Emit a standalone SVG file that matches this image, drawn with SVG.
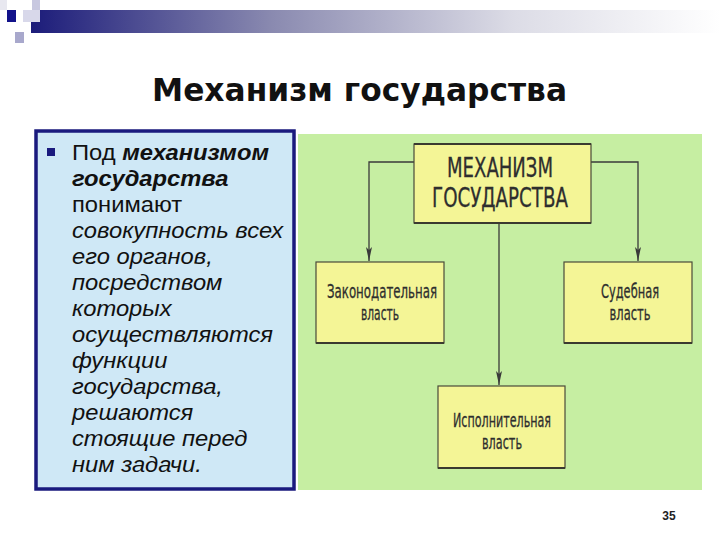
<svg xmlns="http://www.w3.org/2000/svg" width="720" height="540" viewBox="0 0 720 540">
<defs>
<linearGradient id="bar" x1="0" y1="0" x2="1" y2="0">
<stop offset="0" stop-color="#1c1c7a"/>
<stop offset="0.35" stop-color="#8a8ab0"/>
<stop offset="0.7" stop-color="#dcdce6"/>
<stop offset="1" stop-color="#ffffff"/>
</linearGradient>
<marker id="arr" viewBox="0 0 14 6" refX="14" refY="3" markerWidth="14" markerHeight="6" markerUnits="userSpaceOnUse" orient="auto">
<path d="M0,0 L14,3 L0,6 L3,3 Z" fill="#3a3a3a"/>
</marker>
<style>
.box{fill:#f4f596;stroke:#4a4a3a;stroke-width:1.2}
.shadow{stroke:#3a3a30;stroke-width:2.2}
.lbl{font-family:"DejaVu Sans Condensed","Liberation Sans",sans-serif;fill:#2e2e2e;stroke:#2e2e2e;stroke-width:0.3;text-anchor:middle}
.big{font-size:27px}
.small{font-size:20px}
.conn{fill:none;stroke:#3a3a3a;stroke-width:1.3}
.body{font-family:"Liberation Sans",Arial,sans-serif;font-size:22px;fill:#111111}
</style>
</defs>
<rect width="720" height="540" fill="#ffffff"/>
<!-- header decoration -->
<rect x="31" y="10" width="689" height="23" fill="url(#bar)"/>
<rect x="0" y="0" width="7" height="10" fill="#e8e8f0"/>
<rect x="32" y="0" width="8" height="22" fill="#c8c8e0"/>
<rect x="23" y="10" width="17" height="12" fill="#d8d8ea"/>
<rect x="7" y="10" width="9" height="12" fill="#12128a"/>
<rect x="15" y="32" width="9" height="11" fill="#a8a8cc"/>
<!-- title -->
<text x="152" y="101" font-family="DejaVu Sans, Liberation Sans, sans-serif" font-weight="bold" font-size="32" fill="#111111" textLength="415" lengthAdjust="spacingAndGlyphs">Механизм государства</text>
<!-- left text panel -->
<g id="text-panel">
<rect x="36" y="131" width="258" height="358" fill="#cfe8f6" stroke="#1a1a7e" stroke-width="3.5"/>
<rect x="47" y="148" width="8" height="8" fill="#1a1a7e"/>
<text class="body" transform="translate(72,0) scale(1.08,1)">
<tspan x="0" y="160">Под <tspan font-weight="bold" font-style="italic">механизмом</tspan></tspan>
<tspan x="0" y="186" font-weight="bold" font-style="italic">государства</tspan>
<tspan x="0" y="212">понимают</tspan>
<tspan x="0" y="238" font-style="italic">совокупность всех</tspan>
<tspan x="0" y="264" font-style="italic">его органов,</tspan>
<tspan x="0" y="290" font-style="italic">посредством</tspan>
<tspan x="0" y="316" font-style="italic">которых</tspan>
<tspan x="0" y="342" font-style="italic">осуществляются</tspan>
<tspan x="0" y="368" font-style="italic">функции</tspan>
<tspan x="0" y="394" font-style="italic">государства,</tspan>
<tspan x="0" y="420" font-style="italic">решаются</tspan>
<tspan x="0" y="446" font-style="italic">стоящие перед</tspan>
<tspan x="0" y="472" font-style="italic">ним задачи.</tspan>
</text>
</g>
<!-- green panel -->
<rect x="298" y="134" width="404" height="356" fill="#c6eea2"/>
<!-- connectors -->
<g id="connectors">
<path class="conn" d="M414,162 H369 V261" marker-end="url(#arr)"/>
<path class="conn" d="M591,162 H638 V261" marker-end="url(#arr)"/>
<path class="conn" d="M499,223 V385" marker-end="url(#arr)"/>
</g>
<g id="node-mechanism">
<rect class="box" x="414" y="144" width="177" height="79"/>
<line class="shadow" x1="414" y1="144" x2="591" y2="144"/>
<line class="shadow" x1="414" y1="223" x2="591" y2="223"/>
<text class="lbl big" x="500" y="177" textLength="106" lengthAdjust="spacingAndGlyphs">МЕХАНИЗМ</text>
<text class="lbl big" x="500" y="207" textLength="136" lengthAdjust="spacingAndGlyphs">ГОСУДАРСТВА</text>
</g>
<g id="node-legislative">
<rect class="box" x="316" y="262" width="128" height="81"/>
<line class="shadow" x1="316" y1="343" x2="444" y2="343"/>
<text class="lbl small" x="382" y="298" textLength="110" lengthAdjust="spacingAndGlyphs">Законодательная</text>
<text class="lbl small" x="380" y="320" textLength="38" lengthAdjust="spacingAndGlyphs">власть</text>
</g>
<g id="node-judicial">
<rect class="box" x="564" y="262" width="128" height="81"/>
<line class="shadow" x1="564" y1="343" x2="692" y2="343"/>
<text class="lbl small" x="630" y="298" textLength="58" lengthAdjust="spacingAndGlyphs">Судебная</text>
<text class="lbl small" x="630" y="320" textLength="41" lengthAdjust="spacingAndGlyphs">власть</text>
</g>
<g id="node-executive">
<rect class="box" x="438" y="386" width="127" height="82"/>
<line class="shadow" x1="438" y1="468" x2="565" y2="468"/>
<text class="lbl small" x="502" y="427" textLength="98" lengthAdjust="spacingAndGlyphs">Исполнительная</text>
<text class="lbl small" x="502" y="449" textLength="40" lengthAdjust="spacingAndGlyphs">власть</text>
</g>
<text x="669" y="520" text-anchor="middle" font-family="Liberation Sans, Arial, sans-serif" font-weight="bold" font-size="12" fill="#222222">35</text>
</svg>
